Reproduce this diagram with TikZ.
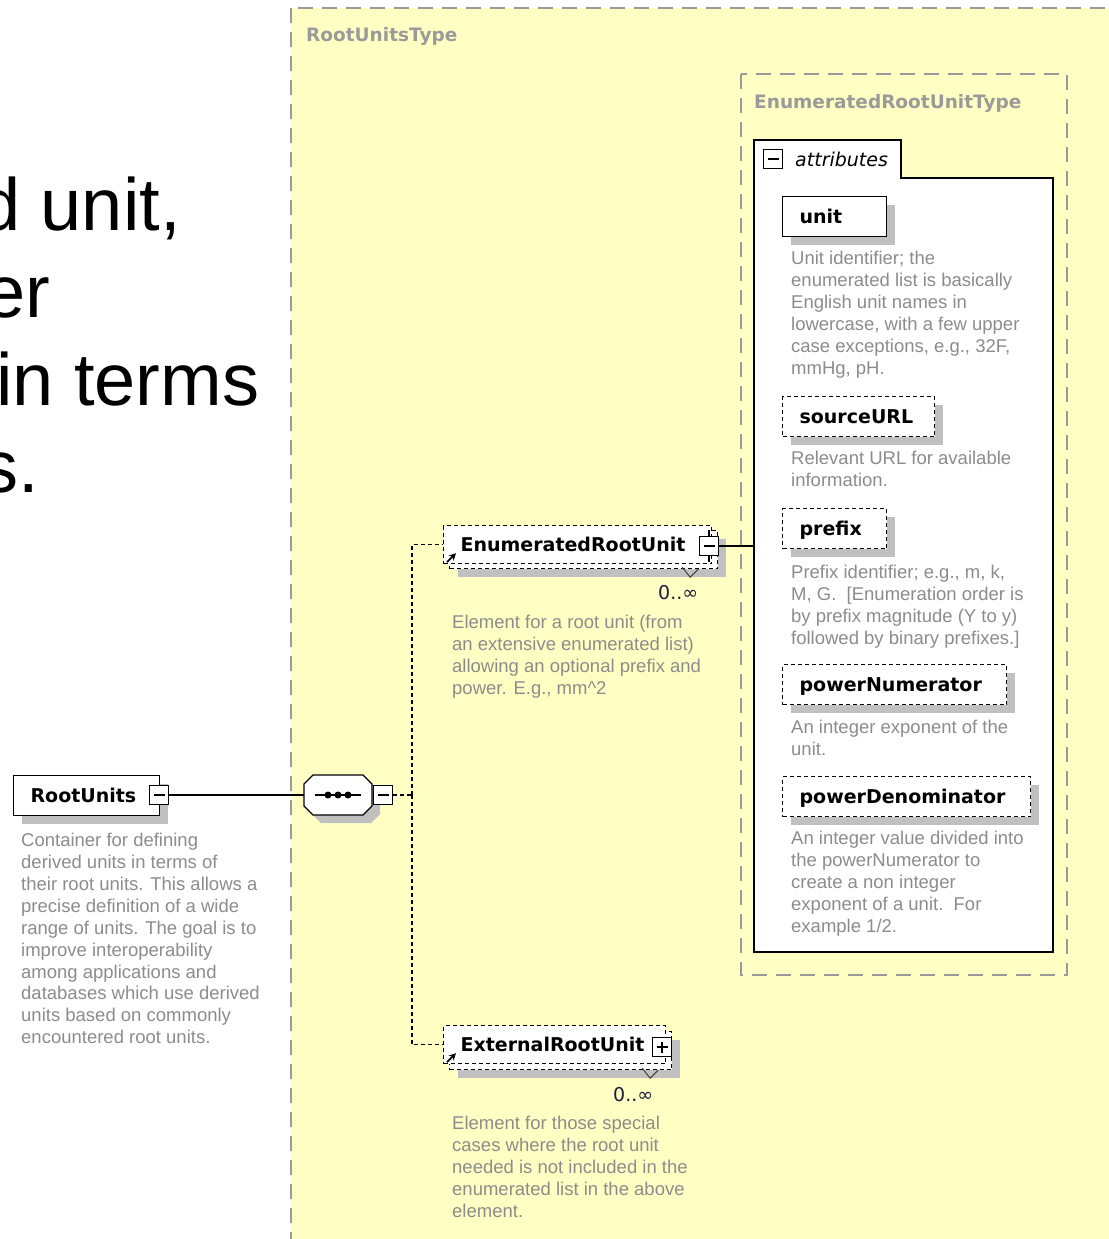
\documentclass[tikz,border=0pt]{standalone}
\usepackage{fontspec}
\setmainfont{Liberation Sans}
\newfontfamily\bigfont{Liberation Sans}
\newfontfamily\lblfont{DejaVu Sans}
\usetikzlibrary{arrows.meta,shadows,calc}
\definecolor{typeyellow}{HTML}{FFFFC4}
\definecolor{typegrey}{HTML}{9A9A9A}
\definecolor{descgrey}{HTML}{8C8C8C}
\definecolor{shadowgrey}{HTML}{C0C0C0}
\definecolor{occur}{HTML}{1A1A3A}
\begin{document}
\begin{tikzpicture}[x=1pt,y=-1pt,
  typebox/.style={draw=typegrey, fill=typeyellow, line width=1.6pt, dash pattern=on 15pt off 9pt},
  typelabel/.style={anchor=base west, inner sep=0, text=typegrey, font=\lblfont\bfseries\fontsize{18.5}{22}\selectfont},
  elembox/.style={draw=black, fill=white, line width=1.2pt, anchor=north west, inner xsep=17pt, inner ysep=0pt, minimum height=40pt, text height=15pt, text depth=1pt, align=left, font=\lblfont\bfseries\fontsize{19}{22}\selectfont},
  shadowed/.style={drop shadow={shadow xshift=8pt, shadow yshift=-8pt, fill=shadowgrey, opacity=1}},
  optional/.style={dash pattern=on 4pt off 3pt},
  desc/.style={anchor=north west, inner sep=0, align=left, text=descgrey, font=\fontsize{18.5}{21.9}\selectfont},
  occurs/.style={anchor=base west, inner sep=0, text=occur, font=\lblfont\fontsize{19}{22}\selectfont},
  toggle/.style={draw=black, fill=white, line width=1.2pt, minimum width=19pt, minimum height=19pt, inner sep=0},
  minus/.style={toggle, path picture={\draw[line width=1.2pt] ([xshift=4pt]path picture bounding box.west) -- ([xshift=-4pt]path picture bounding box.east);}},
  plus/.style={toggle, path picture={\draw[line width=1.2pt] ([xshift=4pt]path picture bounding box.west) -- ([xshift=-4pt]path picture bounding box.east) ([yshift=-4pt]path picture bounding box.north) -- ([yshift=4pt]path picture bounding box.south);}},
  bigtext/.style={anchor=base west, inner sep=0, font=\bigfont\fontsize{74}{88}\selectfont},
  conn/.style={line width=1.2pt},
  notch/.style={line width=1pt, black!75},
  refarrow/.style={-{Stealth[length=7pt,width=7pt]}, line width=1.8pt},
]
\useasboundingbox (0,0) rectangle (1108,1239);
\fill[white] (0,0) rectangle (1108,1239);

% left heading text fragments
\node[bigtext] (t1) at (-21,230) {d unit,};
\node[bigtext] (t2) at (-16,317) {er};
\node[bigtext] (t3) at (-4,405) {in terms};
\node[bigtext] (t4) at (-19,492) {s.};

% type containers
\path[typebox] (291,8) rectangle (1140,1270);
\node[typelabel] (rutLabel) at (306,42) {RootUnitsType};
\path[typebox] (741,74) rectangle (1067,975);
\node[typelabel] (erutLabel) at (754,108) {EnumeratedRootUnitType};

% attributes group
\draw[line width=1.6pt, fill=white] (754,178) -- (754,140) -- (901,140) -- (901,178) -- (1053,178) -- (1053,952) -- (754,952) -- cycle;
\node[inner sep=0, minimum width=299pt, minimum height=774pt, anchor=north west] (attrbox) at (754,178) {};
\node[minus] (amin) at (773,159) {};
\node[anchor=base west, inner sep=0, font=\lblfont\itshape\fontsize{19}{22}\selectfont] (attrLabel) at (795,166) {attributes};

\node[elembox, shadowed, text width=70pt] (unit) at (782,196) {unit};
\node[desc] (unitDesc) at (791,251) {Unit identifier; the\\enumerated list is basically\\English unit names in\\lowercase, with a few upper\\case exceptions, e.g., 32F,\\mmHg, pH.};
\node[elembox, shadowed, optional, text width=118pt] (sourceURL) at (782,396) {sourceURL};
\node[desc] (srcDesc) at (791,451) {Relevant URL for available\\information.};
\node[elembox, shadowed, optional, text width=70pt] (prefix) at (782,508) {prefix};
\node[desc] (prefixDesc) at (791,565) {Prefix identifier; e.g., m, k,\\M, G.~~[Enumeration order is\\by prefix magnitude (Y to y)\\followed by binary prefixes.]};
\node[elembox, shadowed, optional, text width=190pt] (powerNumerator) at (782,664) {powerNumerator};
\node[desc] (pnDesc) at (791,720) {An integer exponent of the\\unit.};
\node[elembox, shadowed, optional, text width=214pt] (powerDenominator) at (782,776) {powerDenominator};
\node[desc] (pdDesc) at (791,831) {An integer value divided into\\the powerNumerator to\\create a non integer\\exponent of a unit.~~For\\example 1/2.};

% RootUnits element
\node[elembox, shadowed, text width=112pt] (RootUnits) at (13,775) {RootUnits};
\node[minus] (rmin) at (159,795) {};
\node[desc] (rootDesc) at (21,833) {Container for defining\\derived units in terms of\\their root units. This allows a\\precise definition of a wide\\range of units. The goal is to\\improve interoperability\\among applications and\\databases which use derived\\units based on commonly\\encountered root units.};

% sequence compositor
\node[inner sep=0, minimum width=68pt, minimum height=40pt] (seq) at (338,795) {};
\fill[shadowgrey] (321,783) -- (371,783) -- (380,792) -- (380,814) -- (371,823) -- (321,823) -- (312,814) -- (312,792) -- cycle;
\draw[line width=1.2pt, fill=white] (313,775) -- (363,775) -- (372,784) -- (372,806) -- (363,815) -- (313,815) -- (304,806) -- (304,784) -- cycle;
\draw[line width=1.2pt] (315,795) -- (361,795);
\fill (328,795) circle (3.5pt) (338,795) circle (3.5pt) (348,795) circle (3.5pt);
\node[minus] (smin) at (383,795) {};
\coordinate (split) at (412,795);

% EnumeratedRootUnit element
\node[elembox, shadowed, optional, minimum width=268pt, minimum height=38pt] (enumBack) at (449,530) {};
\node[elembox, optional, text width=234pt, minimum height=38pt] (enum) at (443,525) {EnumeratedRootUnit};
\draw[refarrow] ($(enum.south west)+(4,-2)$) -- ++(9,-9);
\draw[notch] ($(enumBack.south east)+(-36,-2)$) -- ++(8,10) -- ++(8,-8);
\node[minus] (emin) at (709,546) {};
\draw[line width=1.2pt] (emin.north) -- ++(0,-6) (emin.south) -- ++(0,6);
\node[occurs] (enumOcc) at (658,599) {0..∞};
\node[desc] (enumDesc) at (452,615) {Element for a root unit (from\\an extensive enumerated list)\\allowing an optional prefix and\\power. E.g., mm\textasciicircum 2};

% ExternalRootUnit element
\node[elembox, shadowed, optional, minimum width=222pt, minimum height=38pt] (extBack) at (449,1031) {};
\node[elembox, optional, text width=188pt, minimum height=38pt] (ext) at (443,1025) {ExternalRootUnit};
\draw[refarrow] ($(ext.south west)+(4,-2)$) -- ++(9,-9);
\draw[notch] ($(extBack.south east)+(-30,-2)$) -- ++(8,10) -- ++(8,-8);
\node[plus] (epls) at (662,1047) {};
\node[occurs] (extOcc) at (613,1101) {0..∞};
\node[desc] (extDesc) at (452,1116) {Element for those special\\cases where the root unit\\needed is not included in the\\enumerated list in the above\\element.};

% connectors
\draw[conn] (rmin.east) -- (seq.west);
\draw[conn, optional] (smin.east) -- (split);
\draw[conn, optional] (split) |- (enum.west);
\draw[conn, optional] (split) |- (ext.west);
\draw[conn] (emin.east) -- (emin.east -| attrbox.west);
\end{tikzpicture}
\end{document}
